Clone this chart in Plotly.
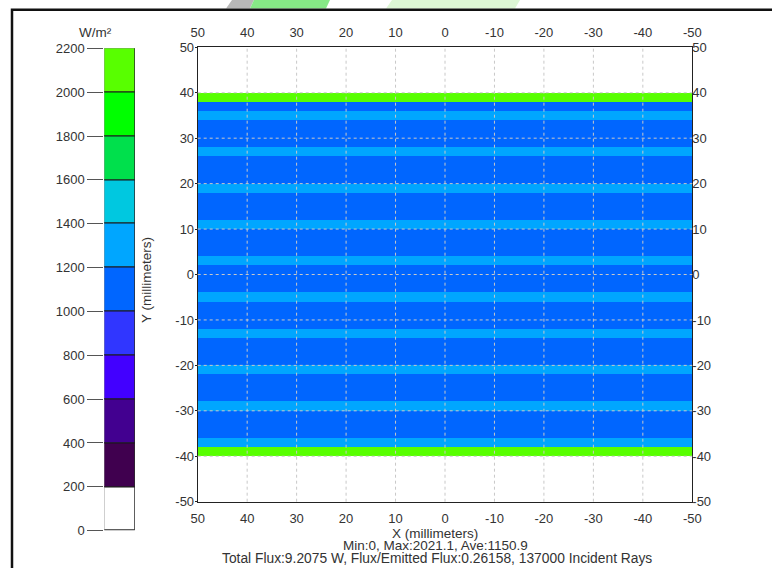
import plotly.graph_objects as go

# ---------------- data ----------------
# Irradiance per 2 mm row, from y=-50 (bottom) to y=50 (top); uniform along X
y_bin_edges = [-50, -48, -46, -44, -42, -40, -38, -36, -34, -32, -30, -28, -26, -24, -22,
               -20, -18, -16, -14, -12, -10, -8, -6, -4, -2, 0, 2, 4, 6, 8, 10, 12, 14,
               16, 18, 20, 22, 24, 26, 28, 30, 32, 34, 36, 38, 40, 42, 44, 46, 48, 50]
x_edges = [-50, 50]
flux_rows = [
    0, 0, 0, 0, 0,            # -50..-40
    2021.1,                   # -40..-38
    1290,                     # -38..-36
    1110, 1110, 1110,         # -36..-30
    1290,                     # -30..-28
    1110, 1110, 1110,         # -28..-22
    1290,                     # -22..-20
    1110, 1110, 1110,         # -20..-14
    1290,                     # -14..-12
    1110, 1110, 1110,         # -12..-6
    1290,                     # -6..-4
    1110, 1110, 1110,         # -4..2
    1290,                     # 2..4
    1110, 1110, 1110,         # 4..10
    1290,                     # 10..12
    1110, 1110, 1110,         # 12..18
    1290,                     # 18..20
    1110, 1110, 1110,         # 20..26
    1290,                     # 26..28
    1110, 1110, 1110,         # 28..34
    1290,                     # 34..36
    1110,                     # 36..38
    2010,                     # 38..40
    0, 0, 0, 0, 0,            # 40..50
]

# colour legend bands (W/m²)
band_lows = [0, 200, 400, 600, 800, 1000, 1200, 1400, 1600, 1800, 2000]
band_widths = [200, 200, 200, 200, 200, 200, 200, 200, 200, 200, 200]
band_colors = ["#FFFFFF", "#40004F", "#420090", "#4200FF", "#3036FF", "#0066FF",
               "#00A6FF", "#00C8E0", "#00E04C", "#00FF00", "#58FF00"]
legend_ticks = [0, 200, 400, 600, 800, 1000, 1200, 1400, 1600, 1800, 2000, 2200]

x_ticks = [50, 40, 30, 20, 10, 0, -10, -20, -30, -40, -50]
y_ticks = [50, 40, 30, 20, 10, 0, -10, -20, -30, -40, -50]
grid_x = [40, 30, 20, 10, 0, -10, -20, -30, -40]
grid_y = [40, 30, 20, 10, 0, -10, -20, -30, -40]

title_x = "X (millimeters)"
title_y = "Y (millimeters)"
unit_label = "W/m²"
stats_line = "Min:0, Max:2021.1, Ave:1150.9"
flux_line = "Total Flux:9.2075 W, Flux/Emitted Flux:0.26158, 137000 Incident Rays"

# ---------------- layout geometry (pixels) ----------------
W, H = 772, 568
PX0, PX1, PY0, PY1 = 197.7, 692.3, 47.3, 501.7
CX0, CX1, CY0, CY1 = 104.3, 135.0, 48.3, 530.7
FONT = "Liberation Sans, Arial, sans-serif"
TXT = "#333333"

def fx(p):
    return p / W

def fy(p):
    return 1 - p / H

zmin, zmax = legend_ticks[0], legend_ticks[-1]
cs = []
nb = len(band_colors)
for i, c in enumerate(band_colors):
    cs.append([i / nb, c])
    cs.append([(i + 1) / nb, c])

fig = go.Figure()
fig.add_trace(go.Heatmap(
    z=[[v] for v in flux_rows], x=x_edges, y=y_bin_edges,
    colorscale=cs, zmin=zmin, zmax=zmax, showscale=False, hoverinfo="skip",
    xaxis="x", yaxis="y"))
fig.add_trace(go.Scatter(x=[], y=[], xaxis="x3", yaxis="y3", showlegend=False))
fig.add_trace(go.Bar(
    x=[0] * len(band_lows), y=band_widths, base=band_lows, width=1,
    marker=dict(color=band_colors, line=dict(color="#1a1a1a", width=1)),
    xaxis="x2", yaxis="y2", showlegend=False, hoverinfo="skip"))

tf = dict(family=FONT, size=13, color=TXT)
common = dict(showgrid=False, zeroline=False, tickfont=tf, fixedrange=True, automargin=False)
xt_text = [str(v) for v in x_ticks]
yt_text = [str(v) for v in y_ticks]

fig.update_layout(
    width=W, height=H, margin=dict(l=0, r=0, t=0, b=0, pad=0, autoexpand=False),
    paper_bgcolor="white", plot_bgcolor="white", showlegend=False,
    font=dict(family=FONT, size=13, color=TXT),
    xaxis=dict(domain=[fx(PX0), fx(PX1)], range=[50, -50], tickvals=x_ticks, ticktext=xt_text,
               anchor="y", ticks="", showline=True, linecolor="#222", linewidth=1, mirror=True,
               ticklabelstandoff=5, **common),
    xaxis3=dict(overlaying="x", side="top", range=[50, -50], tickvals=x_ticks, ticktext=xt_text,
                anchor="y", ticks="", showline=False, ticklabelstandoff=7, **common),
    yaxis=dict(domain=[fy(PY1), fy(PY0)], range=[-50, 50], tickvals=y_ticks, ticktext=yt_text,
               anchor="x", ticks="outside", ticklen=2, tickcolor="#222", showline=True,
               linecolor="#222", linewidth=1, mirror=True, ticklabelstandoff=-2, **common),
    yaxis3=dict(overlaying="y", side="right", range=[-50, 50], tickvals=y_ticks, ticktext=yt_text,
                anchor="x", ticks="", showline=False, ticklabelstandoff=-1, **common),
    xaxis2=dict(domain=[fx(CX0), fx(CX1)], range=[-0.5, 0.5], visible=False, anchor="y2",
                fixedrange=True, automargin=False),
    yaxis2=dict(domain=[fy(CY1), fy(CY0)], range=[zmin, zmax], tickvals=legend_ticks,
                anchor="x2", side="left", ticks="outside", ticklen=16, tickcolor="#555",
                showline=False, ticklabelstandoff=0, **common),
    bargap=0,
)

shapes = []
for gx in grid_x:
    shapes.append(dict(type="line", xref="x", yref="y domain", x0=gx, x1=gx, y0=0, y1=1,
                       line=dict(color="#C8C8C8", width=1, dash="3px,3px"), layer="above"))
for gy in grid_y:
    shapes.append(dict(type="line", xref="x domain", yref="y", x0=0, x1=1, y0=gy, y1=gy,
                       line=dict(color="#C8C8C8", width=1, dash="3px,3px"), layer="above"))
# outer frame
shapes.append(dict(type="rect", xref="paper", yref="paper", x0=fx(12), x1=1.05,
                   y0=-0.05, y1=fy(9.7), line=dict(color="#111", width=2.5), layer="above"))
# faint watermark strip above the frame
shapes.append(dict(type="path", xref="paper", yref="paper",
                   path=f"M {fx(232)} {fy(0)} L {fx(254)} {fy(0)} L {fx(250)} {fy(8.5)} L {fx(226)} {fy(8.5)} Z",
                   fillcolor="#B8B8B8", line=dict(width=0), layer="below"))
shapes.append(dict(type="path", xref="paper", yref="paper",
                   path=f"M {fx(254)} {fy(0)} L {fx(330)} {fy(0)} L {fx(326)} {fy(8.5)} L {fx(250)} {fy(8.5)} Z",
                   fillcolor="#86E886", line=dict(width=0), layer="below"))
shapes.append(dict(type="path", xref="paper", yref="paper",
                   path=f"M {fx(392)} {fy(0)} L {fx(520)} {fy(0)} L {fx(515)} {fy(8.5)} L {fx(386)} {fy(8.5)} Z",
                   fillcolor="#DDF6D5", line=dict(width=0), layer="below"))
fig.update_layout(shapes=shapes)

ann_font = dict(family=FONT, size=13.5, color=TXT)
fig.update_layout(annotations=[
    dict(text=unit_label, x=fx(95), y=fy(33), xref="paper", yref="paper", showarrow=False,
         font=ann_font, xanchor="center", yanchor="middle"),
    dict(text=title_y, x=fx(146), y=fy(280), xref="paper", yref="paper", showarrow=False,
         font=ann_font, textangle=-90, xanchor="center", yanchor="middle"),
    dict(text=title_x, x=fx(435), y=fy(533.5), xref="paper", yref="paper", showarrow=False,
         font=ann_font, xanchor="center", yanchor="middle"),
    dict(text=stats_line, x=fx(435), y=fy(545.5), xref="paper", yref="paper", showarrow=False,
         font=ann_font, xanchor="center", yanchor="middle"),
    dict(text=flux_line, x=fx(437), y=fy(558), xref="paper", yref="paper", showarrow=False,
         font=dict(family=FONT, size=13.8, color=TXT), xanchor="center", yanchor="middle"),
])

fig.write_html("out.html", config={"displayModeBar": False})
